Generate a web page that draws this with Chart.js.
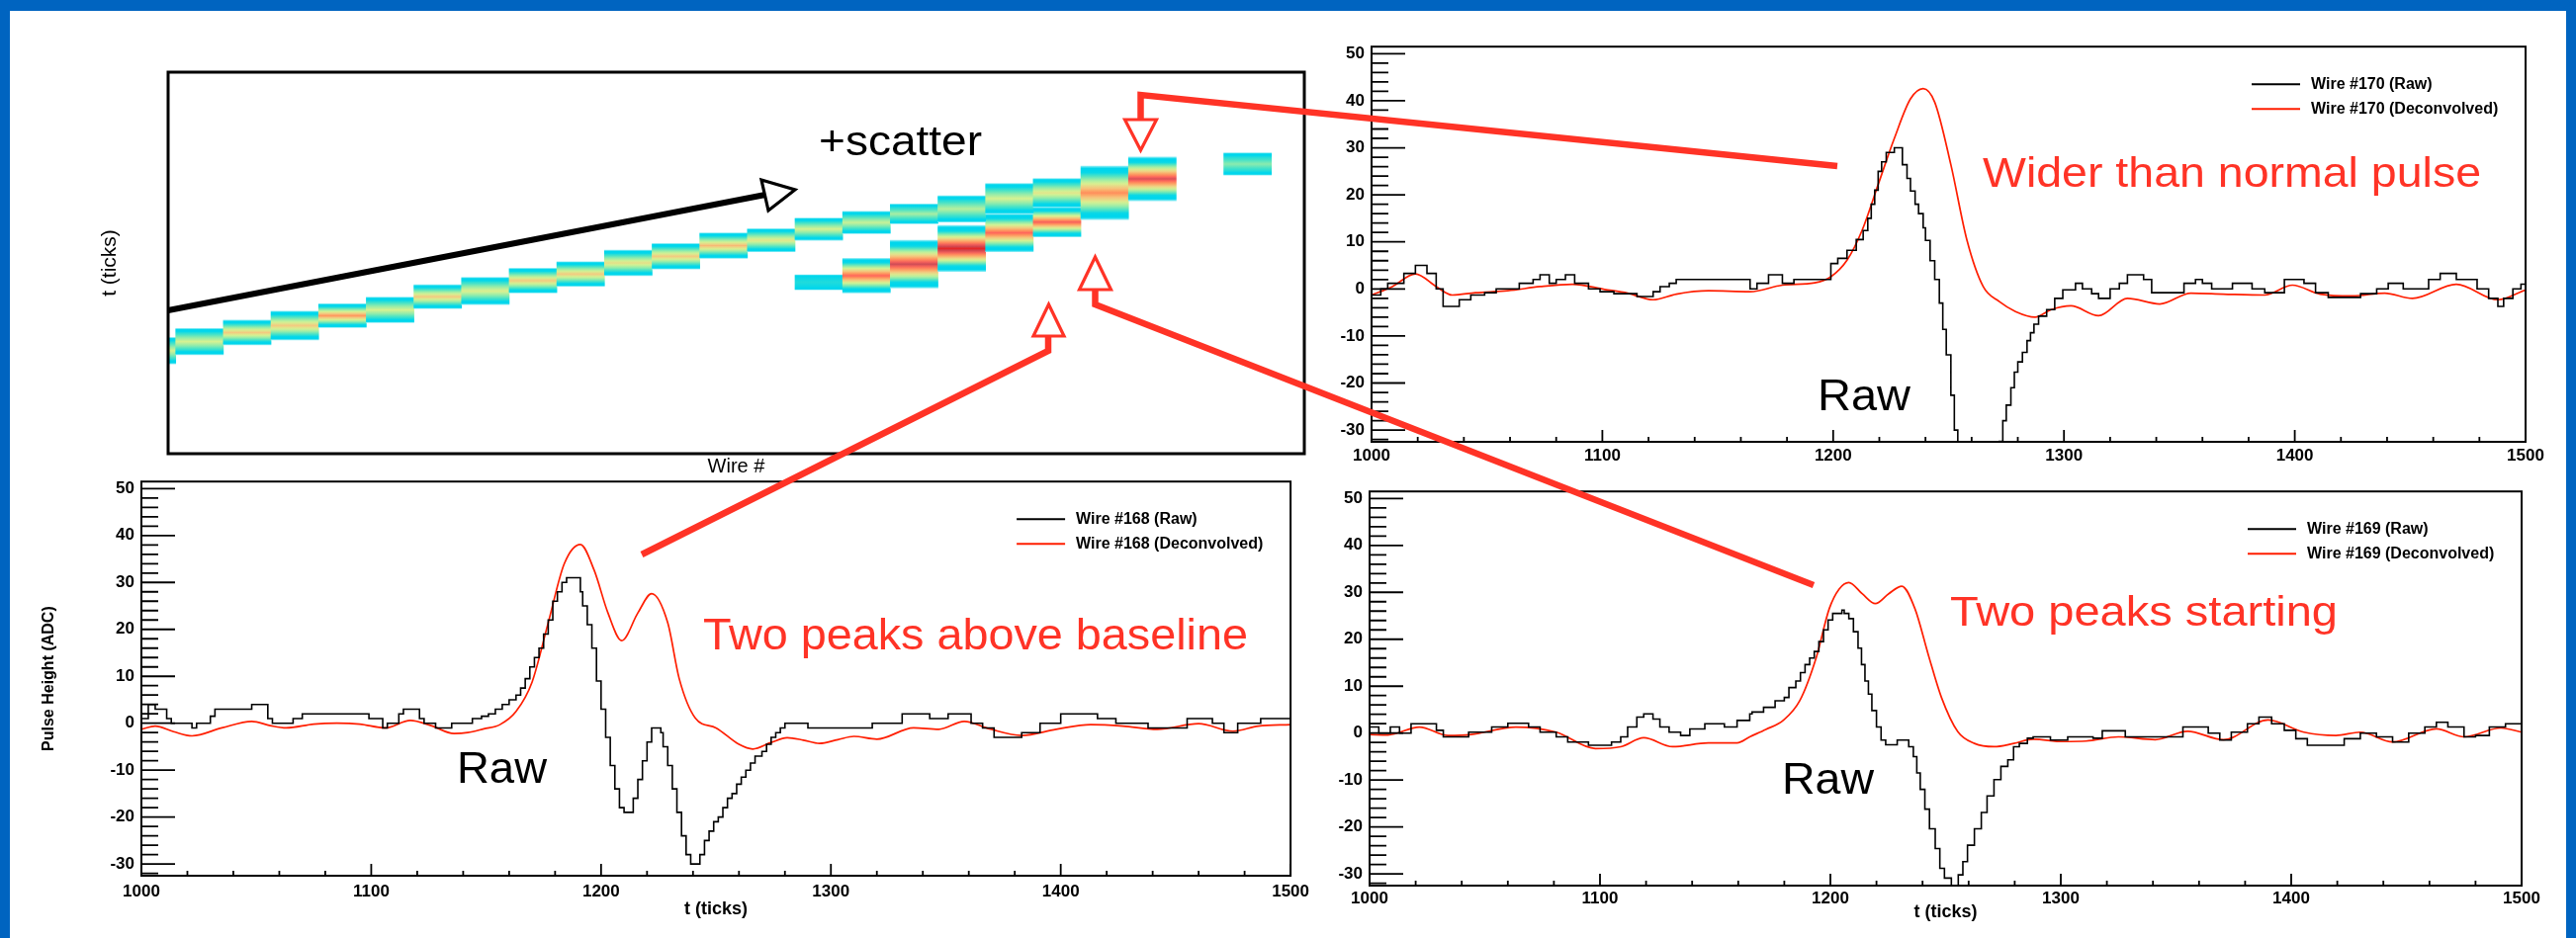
<!DOCTYPE html>
<html>
<head>
<meta charset="utf-8">
<script src="https://cdn.jsdelivr.net/npm/chart.js@4.4.1/dist/chart.umd.min.js"></script>
<style>
html,body{margin:0;padding:0;}
body{width:2605px;height:949px;background:#0064c0;position:relative;overflow:hidden;font-family:'Liberation Sans',Arial,Helvetica,sans-serif;}
#sheet{position:absolute;left:10px;top:11px;width:2585px;height:938px;background:#fff;}
canvas{position:absolute;}
.note{position:absolute;white-space:nowrap;line-height:1;transform-origin:0 0;font-family:'Liberation Sans',Arial,Helvetica,sans-serif;z-index:5;}
</style>
</head>
<body>
<div id="sheet"></div>
<canvas id="heat" width="1240" height="430" style="left:95px;top:60px"></canvas>
<canvas id="w168" width="1310" height="470" style="left:20px;top:470px"></canvas>
<canvas id="w170" width="1262" height="440" style="left:1330px;top:30px"></canvas>
<canvas id="w169" width="1262" height="465" style="left:1330px;top:480px"></canvas>
<canvas id="overlay" width="2605" height="949" style="left:0;top:0;z-index:4"></canvas>
<script>
// ---------------- DATA ----------------
// Event display (wire vs time): main track cells
const trackWires = [149,150,151,152,153,154,155,156,157,158,159,160,161,162,163,164,165,166,167,168,169,170,172];
const trackLo    = [1014,1025,1037,1043,1058,1064,1081,1086,1100,1108,1121,1129,1142,1150,1164,1172,1184,1186,1196,1204,1189,1212,1243];
const trackHi    = [1046,1057,1067,1078,1087,1095,1110,1119,1130,1138,1152,1160,1173,1178,1191,1199,1208,1218,1233,1239,1254,1265,1270];
const trackPeak  = [0.45,0.45,0.58,0.58,0.70,0.45,0.58,0.47,0.58,0.58,0.52,0.58,0.62,0.50,0.45,0.42,0.35,0.38,0.45,0.50,0.72,0.88,0.30];
// scatter branch cells
const scatWires = [163,164,165,166,167,168];
const scatLo    = [1104,1100,1106,1126,1150,1168];
const scatHi    = [1122,1142,1164,1182,1196,1204];
const scatPeak  = [0.08,0.80,0.90,1.00,0.80,0.82];
const wireTicks = [150,151,152,153,154,155,156,157,158,159,160,161,162,163,164,165,166,167,168,169,170,171,172,173];
const WIRE_MIN = 149.84, WIRE_MAX = 173.69, T_MIN = 905, T_MAX = 1368;

// Waveforms [t (ticks), pulse height (ADC)]
const raw168 = [[1000,1],[1003,4],[1006,3],[1011,1],[1013,0],[1022,-1],[1024,0],[1030,1.5],[1032,3],[1048,4],[1055,1],[1057,0],[1066,1],[1070,2],[1099,1],[1105,-1],[1107,0],[1112,2],[1114,3],[1121,1],[1123,0],[1128,-1],[1135,0],[1144,1],[1148,1.5],[1151,2],[1154,3],[1157,4],[1160,5],[1163,6],[1165,7.5],[1167,9.5],[1169,12],[1171,14],[1173,16],[1175,19],[1177,22],[1179,26],[1181,28],[1183,30],[1185,31],[1191,28],[1192,25],[1194,21],[1196,16],[1198,9],[1200,3],[1202,-3],[1204,-9],[1206,-14],[1208,-18],[1210,-19],[1214,-16],[1216,-12],[1218,-8],[1220,-4],[1222,-1],[1226,-2],[1227,-5],[1229,-9],[1231,-14],[1233,-19],[1235,-24],[1237,-28],[1239,-30],[1243,-28],[1245,-25],[1247,-23],[1249,-21],[1251,-20],[1253,-18],[1255,-16],[1257,-15],[1259,-13],[1261,-11.5],[1263,-10],[1265,-8.5],[1267,-7],[1270,-6],[1272,-4.5],[1274,-3],[1276,-2],[1278,-1],[1280,0],[1290,-1],[1318,0],[1331,2],[1343,1],[1351,2],[1361,0],[1366,-1],[1371,-3],[1383,-2],[1391,0],[1400,2],[1416,1],[1424,0],[1438,-1],[1455,1],[1466,0],[1471,-2],[1477,0],[1487,1],[1500,1]];
const decon168 = [[1000,-1.3],[1006,-0.6],[1014,-1.8],[1022,-2.7],[1035,-1.0],[1048,0.4],[1056,-0.5],[1063,-1],[1075,-0.2],[1085,0],[1095,-0.2],[1106,-1],[1117,0.6],[1126,-0.5],[1136,-2.2],[1142,-2.0],[1149,-1.2],[1156,-0.3],[1163,2.5],[1170,8.8],[1177,21.4],[1184,34],[1191,38.1],[1197,32.6],[1203,23.5],[1209,17.6],[1216,23.5],[1222,27.6],[1229,21.4],[1234,9.5],[1241,1.1],[1250,-1.0],[1260,-4.5],[1266,-5.5],[1274,-4.1],[1281,-3.1],[1288,-3.6],[1295,-4.3],[1303,-3.5],[1310,-2.8],[1320,-3.4],[1336,-1],[1347,-1.3],[1358,0.4],[1369,-1.2],[1383,-2.6],[1398,-1.3],[1413,-0.3],[1427,-0.6],[1442,-1.3],[1460,-0.1],[1475,-1.7],[1486,-0.6],[1500,-0.3]];

const raw170 = [[1000,-1.3],[1004,0],[1007,1.2],[1014,3.3],[1019,5],[1024,3.3],[1028,0],[1031,-3.7],[1038,-2.3],[1043,-1.3],[1049,-0.8],[1054,0],[1064,1.2],[1070,2],[1073,3],[1077,1.2],[1080,2],[1084,3],[1088,1.2],[1094,0],[1099,-0.6],[1105,-1],[1115,-1.6],[1122,-0.6],[1125,0.5],[1129,1.2],[1132,2],[1164,0],[1167,1.2],[1172,3],[1178,1.2],[1183,2],[1199,5.4],[1202,6.5],[1206,8.2],[1210,10.5],[1213,12.4],[1215,15],[1216.5,18],[1218,21],[1219.5,25],[1221,27],[1223,29],[1226.5,30],[1230,26.4],[1232,23.5],[1233.5,20.8],[1235.5,18],[1237,16],[1239,13],[1240,10.3],[1242,6],[1244,2],[1246,-3],[1247.5,-8.6],[1249,-14],[1251,-22.6],[1252.5,-30],[1254,-38],[1258,-48],[1263,-50],[1268,-42],[1271,-34],[1272,-32.4],[1273.5,-28],[1275,-24.7],[1277,-21],[1278.5,-17.7],[1280,-15.5],[1282,-13.5],[1284,-11],[1285.5,-9.3],[1287,-7.5],[1289,-5.8],[1292.5,-4.4],[1296,-2],[1299.5,-0.2],[1305,1.2],[1308,0],[1312,-1],[1315,-2],[1320,0],[1324,1.2],[1327.5,3],[1334.5,2],[1338,-0.8],[1352,1.2],[1357,2],[1360,1.2],[1364,0],[1373,1.2],[1381.5,0],[1387,-0.8],[1395.5,2],[1404,1.2],[1409,-0.8],[1414.5,-1.8],[1428.5,-1],[1435.5,0],[1440.5,1.2],[1447,0],[1458,2],[1463,3.3],[1470,2],[1479,0],[1484,-2],[1488,-3.7],[1490.5,-2],[1494.5,0],[1498,1],[1500,1]];
const decon170 = [[1000,-1.3],[1009,0.5],[1019,3.2],[1028,0.5],[1035,-1.3],[1045,-0.8],[1059,-0.4],[1073,0.5],[1087,1],[1101,-0.1],[1111,-0.9],[1122,-2.3],[1132,-1.1],[1146,-0.4],[1164,-0.6],[1178,0.8],[1192,1.3],[1199,2.6],[1206,6.1],[1212.5,12.4],[1219.5,22.2],[1226.5,32],[1233.5,40.4],[1239,42.6],[1244,39.7],[1251,26.4],[1258,10.3],[1265,0.5],[1272,-2.7],[1279,-4.8],[1287.5,-6],[1294.5,-4.4],[1303,-3.6],[1315,-5.7],[1327.5,-2],[1341.5,-3.2],[1355,-0.9],[1369,-1.1],[1387,-1.3],[1399,0.8],[1411,-1.1],[1425,-1.5],[1439,-0.9],[1451,-2],[1470,1],[1488,-2.3],[1500,-0.2]];

const raw169 = [[1000,1.3],[1004,0],[1009,1.3],[1013,0],[1018,2],[1029,0.6],[1032,-0.8],[1043,0.2],[1053,1.3],[1060,2.1],[1069,1.3],[1074,0.2],[1081,-0.8],[1086,-1.9],[1095,-2.6],[1105,-1.9],[1109,-0.8],[1112,1.3],[1116,3.4],[1119,4.1],[1123,3],[1126,1.3],[1130,0.2],[1135,-0.5],[1139,0.9],[1145.5,2],[1154,1.3],[1159.5,2.7],[1165,4.1],[1166,4.5],[1171,5.5],[1176,6.9],[1180,7.6],[1182,9.7],[1185,11.1],[1187,12.9],[1189,14.6],[1191,16],[1193,17.4],[1195,19.5],[1197,22],[1199,24.1],[1201,25.5],[1205,26.2],[1206,25.5],[1208,24.4],[1210,21.6],[1212,18.1],[1213.5,14.6],[1215,11.1],[1216.5,8.3],[1218,4.8],[1220,1.3],[1222,-1.5],[1224,-2.5],[1229,-1.5],[1234,-2.9],[1236,-5],[1237.5,-8.5],[1239,-12],[1241,-16.2],[1243,-20.4],[1245.5,-24.6],[1247.5,-28.8],[1249.5,-30.9],[1252.5,-33],[1255.5,-30.2],[1257.5,-27.4],[1259.5,-23.9],[1262.5,-20.4],[1265.5,-16.9],[1268,-13.4],[1271,-9.9],[1274,-7.1],[1277,-5.7],[1279.5,-2.9],[1282,-2.2],[1285.5,-1.1],[1288,-0.8],[1295.5,-1.5],[1303,-0.8],[1314,-1.1],[1318,0.5],[1328,-0.8],[1353,1.3],[1364,0],[1369,-1.5],[1374,0.2],[1381,2],[1386,3.4],[1391.5,2],[1397,0.6],[1402,-1.2],[1407,-2.6],[1423,-1.2],[1430,0],[1437,-0.8],[1444,-1.9],[1451,0],[1458,1.3],[1463,2.3],[1468,1.3],[1475,-0.8],[1480,-0.5],[1486,1.3],[1493,2],[1500,2]];
const decon169 = [[1000,-0.3],[1008,-0.4],[1021.6,1.3],[1034,-0.5],[1044,-0.3],[1063.5,1.3],[1081,0.2],[1098,-3.3],[1109,-2.9],[1119,-1],[1131.5,-2.9],[1147,-2.1],[1159.5,-2.1],[1165,-0.8],[1172,0.8],[1179.5,2.7],[1186.7,6.9],[1193.8,16],[1199.5,26.5],[1203.8,30.7],[1208,32.1],[1213.8,29.7],[1219.5,27.6],[1225.3,29.7],[1231,31.3],[1236.7,26.5],[1242.5,16.7],[1248.2,7.6],[1255.3,0.3],[1262.5,-2.2],[1271,-2.9],[1279.6,-2.2],[1288,-1.3],[1301,-1.8],[1311,-1.7],[1325,-0.8],[1341,-1.4],[1355,0.4],[1370.6,-1.4],[1390,2.8],[1405.5,0.2],[1419.4,-0.5],[1430,0.2],[1444,-1.9],[1463,0.9],[1475,-0.8],[1491,1.1],[1500,0.2]];

const xTickValues = [1000,1100,1200,1300,1400,1500];
const yTickValues = [-30,-20,-10,0,10,20,30,40,50];
const T_AXIS_MIN = 1000, T_AXIS_MAX = 1500, ADC_MIN = -32.5, ADC_MAX = 51.5;

// ---------------- STYLE ----------------
const FONT = "'Liberation Sans', Arial, Helvetica, sans-serif";
Chart.defaults.font.family = FONT;
Chart.defaults.color = '#000';
const RED = '#ff3326';
const CURVE_RED = '#ff1e00';
const CMAP = [[0,[0,214,236]],[0.18,[70,226,200]],[0.32,[150,236,170]],[0.45,[214,242,146]],[0.58,[243,202,128]],[0.7,[255,152,92]],[0.8,[255,102,92]],[0.9,[206,76,86]],[1,[228,38,38]]];

function cmap(v){
  v = Math.max(0, Math.min(1, v));
  for (let i = 1; i < CMAP.length; i++) {
    if (v <= CMAP[i][0]) {
      const a = CMAP[i-1], b = CMAP[i];
      const f = (v - a[0]) / (b[0] - a[0]);
      const c = a[1].map((x, k) => Math.round(x + (b[1][k] - x) * f));
      return 'rgb(' + c.join(',') + ')';
    }
  }
  return 'rgb(' + CMAP[CMAP.length-1][1].join(',') + ')';
}
function cellFill(peaks){
  return (c) => {
    if (c.type !== 'data' || !c.chart.chartArea || !c.raw) return 'rgba(0,0,0,0)';
    const ys = c.chart.scales.y;
    const top = ys.getPixelForValue(c.raw.y[1]);
    const bot = ys.getPixelForValue(c.raw.y[0]);
    const g = c.chart.ctx.createLinearGradient(0, top, 0, bot);
    const p = peaks[c.dataIndex];
    for (let k = 0; k <= 24; k++) {
      const s = k / 24;
      const d = Math.abs(2 * s - 1);
      const shape = d >= 0.76 ? 0 : Math.pow((0.76 - d) / 0.76, 0.75);
      const col = cmap(p * shape);
      if (k === 0 || k === 24) {
        g.addColorStop(s, 'rgb(140,236,244)');
      } else {
        g.addColorStop(s, col);
      }
    }
    return g;
  };
}

// frame + ROOT-style inner ticks
const rootFrame = {
  id: 'rootFrame',
  afterDatasetsDraw(chart, args, o) {
    const {ctx, chartArea: a, scales} = chart;
    ctx.save();
    ctx.strokeStyle = '#000';
    ctx.lineWidth = o.frame || 2;
    ctx.strokeRect(a.left, a.top, a.right - a.left, a.bottom - a.top);
    if (o.ticks) {
      const x = scales.x, y = scales.y;
      ctx.lineWidth = 1.8;
      ctx.beginPath();
      for (let v = Math.ceil(y.min / 2) * 2; v <= y.max; v += 2) {
        const py = y.getPixelForValue(v);
        const len = (v % 10 === 0) ? 34 : 17;
        ctx.moveTo(a.left, py); ctx.lineTo(a.left + len, py);
      }
      for (let v = x.min; v <= x.max; v += 20) {
        const px = x.getPixelForValue(v);
        const len = (v % 100 === 0) ? 12 : 5;
        ctx.moveTo(px, a.bottom); ctx.lineTo(px, a.bottom - len);
      }
      ctx.stroke();
    }
    ctx.restore();
  }
};
// ROOT-style legend inside the frame
const rootLegend = {
  id: 'rootLegend',
  afterDraw(chart, args, o) {
    if (!o || !o.show) return;
    const {ctx, chartArea: a} = chart;
    ctx.save();
    ctx.font = 'bold 16px ' + FONT;
    ctx.textBaseline = 'middle';
    ctx.textAlign = 'left';
    chart.data.datasets.forEach((ds, i) => {
      const y = a.top + 38 + i * 25;
      ctx.strokeStyle = ds.borderColor;
      ctx.lineWidth = 2;
      ctx.beginPath(); ctx.moveTo(a.right - 277, y); ctx.lineTo(a.right - 228, y); ctx.stroke();
      ctx.fillStyle = '#000';
      ctx.fillText(ds.label, a.right - 217, y);
    });
    ctx.restore();
  }
};

// ---------------- EVENT DISPLAY ----------------
new Chart(document.getElementById('heat'), {
  type: 'bar',
  data: {
    datasets: [
      { label: 'track', data: trackWires.map((w, i) => ({x: w + 0.5, y: [trackLo[i], trackHi[i]]})),
        backgroundColor: cellFill(trackPeak), grouped: false, barPercentage: 1, categoryPercentage: 1, borderWidth: 0, clip: 0 },
      { label: 'scatter', data: scatWires.map((w, i) => ({x: w + 0.5, y: [scatLo[i], scatHi[i]]})),
        backgroundColor: cellFill(scatPeak), grouped: false, barPercentage: 1, categoryPercentage: 1, borderWidth: 0, clip: 0 }
    ]
  },
  options: {
    responsive: false, animation: false, events: [],
    layout: { padding: {left: 0, top: 13, right: 16, bottom: 0} },
    plugins: { legend: {display: false}, tooltip: {enabled: false}, rootFrame: {frame: 3, ticks: false} },
    scales: {
      x: { type: 'linear', min: WIRE_MIN, max: WIRE_MAX, offset: false,
           afterFit: s => { s.height = 31; },
           afterBuildTicks: s => { s.ticks = wireTicks.map(v => ({value: v})); },
           ticks: {display: false}, grid: {display: false, drawTicks: false}, border: {display: false},
           title: {display: true, text: 'Wire #', font: {size: 20}, color: '#000', padding: {top: 0, bottom: 6}} },
      y: { type: 'linear', min: T_MIN, max: T_MAX, beginAtZero: false,
           afterFit: s => { s.width = 75; },
           ticks: {display: false}, grid: {display: false, drawTicks: false}, border: {display: false},
           title: {display: true, text: 't (ticks)', font: {size: 21}, color: '#000', padding: {top: 4, bottom: 0}} }
    }
  },
  plugins: [rootFrame]
});

// ---------------- WAVEFORM PANELS ----------------
function panel(id, wire, raw, decon, g) {
  return new Chart(document.getElementById(id), {
    type: 'line',
    data: {
      datasets: [
        { label: 'Wire #' + wire + ' (Raw)', data: raw.map(p => ({x: p[0], y: p[1]})),
          borderColor: '#000', borderWidth: 1.6, pointRadius: 0, stepped: 'before', fill: false },
        { label: 'Wire #' + wire + ' (Deconvolved)', data: decon.map(p => ({x: p[0], y: p[1]})),
          borderColor: CURVE_RED, borderWidth: 1.7, pointRadius: 0, tension: 0.4, cubicInterpolationMode: 'monotone', fill: false }
      ]
    },
    options: {
      responsive: false, animation: false, events: [],
      layout: { padding: {left: 0, top: 17, right: g.right, bottom: 0} },
      plugins: { legend: {display: false}, tooltip: {enabled: false}, rootLegend: {show: true}, rootFrame: {frame: 2, ticks: true} },
      scales: {
        x: { type: 'linear', min: T_AXIS_MIN, max: T_AXIS_MAX,
             afterFit: s => { s.height = g.xh; },
             afterBuildTicks: s => { s.ticks = xTickValues.map(v => ({value: v})); },
             grid: {display: false, drawTicks: false}, border: {display: false},
             ticks: {font: {size: 17, weight: 'bold'}, color: '#000', padding: g.xpad, maxRotation: 0, autoSkip: false, callback: v => String(v)},
             title: g.xtitle ? {display: true, text: 't (ticks)', font: {size: 18, weight: 'bold'}, color: '#000', padding: {top: 0, bottom: g.xtitlePad}} : {display: false} },
        y: { type: 'linear', min: ADC_MIN, max: ADC_MAX,
             afterFit: s => { s.width = g.yw; },
             afterBuildTicks: s => { s.ticks = yTickValues.map(v => ({value: v})); },
             grid: {display: false, drawTicks: false}, border: {display: false},
             ticks: {font: {size: 17, weight: 'bold'}, color: '#000', padding: 7, autoSkip: false, callback: v => String(v)},
             title: g.ytitle ? {display: true, text: 'Pulse Height (ADC)', font: {size: 16, weight: 'bold'}, color: '#000', padding: {top: 20, bottom: 0}} : {display: false} }
      }
    },
    plugins: [rootFrame, rootLegend]
  });
}
panel('w168', 168, raw168, decon168, {right: 24, xh: 54, yw: 123, xpad: 6, xtitle: true, xtitlePad: 9, ytitle: true});
panel('w170', 170, raw170, decon170, {right: 38, xh: 23, yw: 57, xpad: 4, xtitle: false, ytitle: false});
panel('w169', 169, raw169, decon169, {right: 42, xh: 49, yw: 55, xpad: 3, xtitle: true, xtitlePad: 11, ytitle: false});

// ---------------- ANNOTATIONS ----------------
(function(){
  const ctx = document.getElementById('overlay').getContext('2d');
  ctx.lineJoin = 'miter';
  function head(p1, p2, tip, color) {
    ctx.beginPath(); ctx.moveTo(p1[0], p1[1]); ctx.lineTo(tip[0], tip[1]); ctx.lineTo(p2[0], p2[1]); ctx.closePath();
    ctx.fillStyle = '#fff'; ctx.fill();
    ctx.lineWidth = 3.2; ctx.strokeStyle = color; ctx.stroke();
  }
  function path(pts, color, w) {
    ctx.beginPath(); ctx.moveTo(pts[0][0], pts[0][1]);
    for (let i = 1; i < pts.length; i++) ctx.lineTo(pts[i][0], pts[i][1]);
    ctx.lineWidth = w; ctx.strokeStyle = color; ctx.stroke();
  }
  // black track arrow
  path([[170,314],[774,197]], '#000', 6);
  head([770,182],[777,213],[804,192], '#000');
  // red arrows
  path([[1858,168],[1153.5,96],[1153.5,121]], RED, 6.5);
  head([1137.5,121],[1169.5,121],[1153.5,152], RED);
  path([[1834,592],[1107.5,308],[1107.5,293]], RED, 6.5);
  head([1091.5,293],[1123.5,293],[1107.5,260], RED);
  path([[649,561],[1060,355],[1060,340]], RED, 6.5);
  head([1045,340],[1076,340],[1060.5,308], RED);

  const notes = [
    {text: '+scatter', x: 828, base: 157.5, size: 42, w: 165, color: '#000'},
    {text: 'Wider than normal pulse', x: 2005, base: 189, size: 43, w: 504, color: RED},
    {text: 'Two peaks above baseline', x: 711, base: 657, size: 44, w: 551, color: RED},
    {text: 'Two peaks starting', x: 1972, base: 633.5, size: 43, w: 392, color: RED},
    {text: 'Raw', x: 462, base: 792, size: 44, w: 91, color: '#000'},
    {text: 'Raw', x: 1838, base: 415, size: 44, w: 94, color: '#000'},
    {text: 'Raw', x: 1802, base: 803, size: 44, w: 93, color: '#000'}
  ];
  notes.forEach(n => {
    const d = document.createElement('div');
    d.className = 'note';
    d.textContent = n.text;
    d.style.fontSize = n.size + 'px';
    d.style.color = n.color;
    d.style.left = n.x + 'px';
    d.style.top = (n.base - 0.8465 * n.size) + 'px';
    document.body.appendChild(d);
    const w0 = d.getBoundingClientRect().width;
    if (w0 > 0) d.style.transform = 'scaleX(' + (n.w / w0).toFixed(4) + ')';
  });
})();
</script>
</body>
</html>
